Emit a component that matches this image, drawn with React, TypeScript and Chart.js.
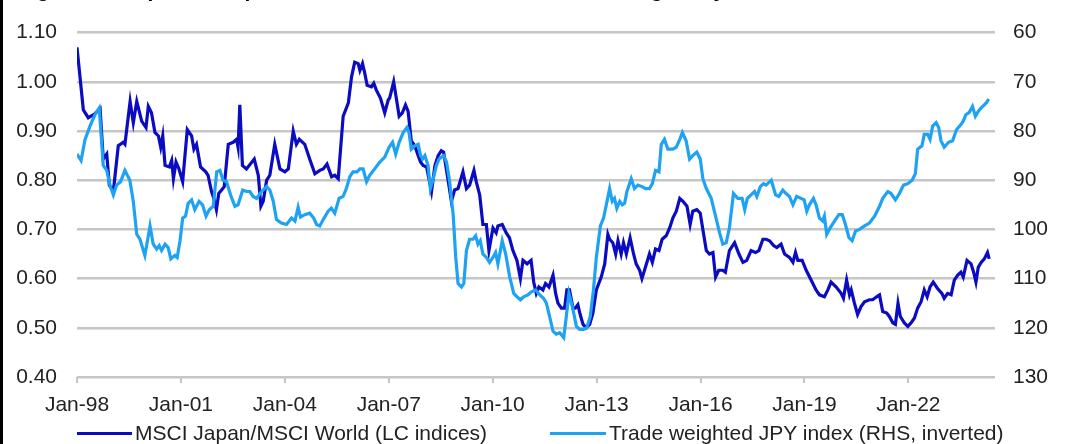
import { useEffect, useRef } from "react";
import { Chart, registerables } from "chart.js";

Chart.register(...registerables);

// x values are months since Jan-1998
const ratioMonths = [
  0, 2.2, 3.9, 6.2, 8.0, 9.1, 10.3, 11.2, 12.6, 14.3, 16.0, 16.6, 18.4, 19.5, 20.7, 22.4, 23.9, 24.7, 25.8,
  27.0, 28.2, 29.0, 29.7, 30.5, 32.0, 32.8, 33.4, 34.3, 35.3, 36.6, 38.2, 39.7, 40.5, 41.4, 42.8, 44.6, 45.4,
  46.6, 47.4, 48.3, 49.1, 50.1, 51.0, 52.4, 54.1, 55.3, 55.8, 56.4, 57.3, 58.7, 61.4,
  62.8, 63.7, 64.5, 65.7, 66.8, 68.5, 70.3, 72.0, 73.2, 74.9, 76.0, 77.0, 78.9, 80.6, 82.4, 84.1, 85.3, 86.6,
  88.2, 89.3, 90.5, 92.2, 94.0, 95.1, 96.2, 97.4, 98.0, 98.9, 99.7, 100.5, 102.0, 102.8, 103.7, 105.1, 106.6,
  107.8, 108.3, 109.7, 110.6, 111.6, 112.7, 113.8, 114.7, 115.8, 117.0, 118.2, 119.0, 119.9, 121.1, 122.8,
  124.0, 125.1, 126.2, 127.0, 128.0, 129.7, 130.8, 132.0, 133.7, 134.9, 136.0, 137.5, 138.3, 139.5, 140.6,
  141.8, 142.7, 144.1, 145.2, 145.8, 147.3, 148.7, 149.8, 151.0, 152.4, 153.6, 154.5, 155.9, 157.3, 158.2,
  159.1, 160.0, 161.4, 162.3, 163.5, 164.9, 165.8, 166.6, 167.8, 168.9, 169.7, 170.6, 171.8, 172.6, 173.5,
  174.3, 175.3, 176.4, 177.6, 178.7, 179.9, 181.6, 182.8, 183.9,
  184.5, 185.6, 186.6, 187.4, 188.5, 189.3, 190.3, 191.6, 192.8, 193.7, 194.9, 195.7, 196.9, 198.3, 199.3,
  200.4, 201.6, 202.7, 204.1, 205.3, 206.4, 207.6, 208.8, 209.9, 211.3, 212.4, 213.3, 214.7, 215.9, 216.8,
  218.0, 219.1, 220.3, 221.2, 222.3, 223.7, 224.6, 226.0, 227.8, 229.3, 230.7, 232.0, 233.5, 235.0, 236.2,
  237.6, 238.7, 239.9, 241.3, 242.4, 243.9, 245.1,
  246.8, 248.0, 248.9, 249.7, 251.2, 252.6, 254.3, 256.0, 257.2, 258.9, 260.1, 261.2, 263.0, 264.7, 265.5,
  266.6, 267.6, 268.2, 269.3, 270.4, 271.6, 272.8, 274.5, 275.6, 277.0, 278.0, 279.1, 280.5, 281.4, 282.6,
  283.5, 284.4, 285.2, 286.6, 287.8, 288.9, 290.1, 291.2, 292.4, 293.5, 294.5, 295.5, 296.6, 298.1, 299.6,
  300.4, 301.6, 302.8, 303.9, 305.1, 306.2, 307.0, 308.3, 309.7, 310.6, 311.4, 312.2, 313.2, 314.3, 315.4, 316.0,
];
const ratioValues = [
  1.07, 0.943, 0.927, 0.935, 0.945, 0.843, 0.853, 0.79, 0.778, 0.87, 0.877, 0.873, 0.96, 0.917, 0.96, 0.92, 0.907, 0.95, 0.937,
  0.897, 0.89, 0.867, 0.89, 0.83, 0.827, 0.84, 0.803, 0.837, 0.823, 0.797, 0.903, 0.89, 0.863, 0.873, 0.827, 0.817, 0.81,
  0.777, 0.763, 0.74, 0.773, 0.78, 0.787, 0.873, 0.877, 0.883, 0.867, 0.953, 0.83, 0.823, 0.843,
  0.81, 0.747, 0.757, 0.8, 0.81, 0.873, 0.823, 0.817, 0.823, 0.9, 0.873, 0.883, 0.873, 0.843, 0.813, 0.82, 0.823, 0.833,
  0.807, 0.81, 0.803, 0.93, 0.957, 1.01, 1.04, 1.037, 1.023, 1.037, 1.017, 0.993, 0.99, 0.997, 0.983, 0.967, 0.937,
  0.963, 0.967, 1.0, 0.967, 0.93, 0.937, 0.953, 0.94, 0.88, 0.87, 0.85, 0.837, 0.83, 0.827, 0.777,
  0.83, 0.85, 0.86, 0.857, 0.82, 0.757, 0.78, 0.783, 0.817, 0.783, 0.79, 0.82, 0.797, 0.77, 0.71,
  0.71, 0.657, 0.703, 0.693, 0.707, 0.71, 0.693, 0.683, 0.657, 0.637, 0.6, 0.637, 0.63, 0.637, 0.593,
  0.57, 0.583, 0.577, 0.59, 0.583, 0.607, 0.57, 0.55, 0.54, 0.54, 0.577, 0.577, 0.54, 0.54, 0.547,
  0.527, 0.507, 0.5, 0.507, 0.53, 0.577, 0.603, 0.63, 0.69,
  0.68, 0.673, 0.65, 0.677, 0.65, 0.673, 0.65, 0.683, 0.65, 0.63, 0.617, 0.6, 0.623, 0.65, 0.633,
  0.66, 0.657, 0.68, 0.687, 0.703, 0.723, 0.737, 0.763, 0.757, 0.747, 0.71, 0.737, 0.74, 0.733, 0.7,
  0.657, 0.65, 0.653, 0.603, 0.617, 0.617, 0.613, 0.657, 0.673, 0.65, 0.633, 0.637, 0.657, 0.653, 0.657,
  0.68, 0.68, 0.677, 0.667, 0.663, 0.67, 0.65,
  0.643, 0.633, 0.653, 0.637, 0.637, 0.617, 0.597, 0.577, 0.567, 0.563, 0.577, 0.593, 0.583, 0.57, 0.56,
  0.597, 0.567, 0.577, 0.55, 0.527, 0.543, 0.553, 0.557, 0.557, 0.563, 0.567, 0.533, 0.53, 0.523, 0.51,
  0.507, 0.55, 0.523, 0.51, 0.503, 0.51, 0.52, 0.54, 0.553, 0.577, 0.563, 0.583, 0.593, 0.58, 0.57,
  0.56, 0.57, 0.567, 0.597, 0.607, 0.613, 0.603, 0.637, 0.63, 0.613, 0.593, 0.623, 0.633, 0.64, 0.653, 0.64,
];

const jpyMonths = [
  0, 1.4, 2.8, 4.5, 6.2, 7.7, 9.1, 10.3, 11.4, 12.6, 13.7, 15.1, 16.6, 18.3, 19.5, 20.7, 21.8, 23.5, 25.3,
  26.4, 27.6, 28.5, 29.3, 30.5, 31.6, 32.5, 33.9, 34.7, 35.7, 36.6, 37.6, 38.5, 39.7, 40.8, 42.3, 43.5, 44.7,
  45.8, 47.2, 48.4, 49.5, 50.6, 51.8, 53.2, 54.7, 55.8, 57.4, 58.7, 59.9,
  61.0, 62.2, 63.9, 65.7, 66.8, 68.0, 69.1, 70.8, 72.6, 74.3, 75.5, 76.6, 77.4, 78.9, 80.6, 82.0, 83.0, 84.1,
  85.3, 87.0, 88.1, 89.3, 90.8, 92.2, 93.3, 94.5, 95.6, 97.0, 98.0, 99.1, 100.3, 101.4, 103.1, 104.9, 106.6,
  108.1, 109.3, 110.4, 111.6, 113.0, 114.3, 115.0, 115.8, 117.0, 118.2, 119.0, 119.7, 120.5, 121.6, 122.4,
  123.4, 124.5, 125.4,
  127.0, 128.0, 129.1, 130.3, 131.2, 132.0, 133.2, 134.0, 134.9, 136.0, 137.2, 138.1, 138.9, 139.7, 140.6,
  141.8, 142.9, 144.1, 145.0, 145.8, 147.3, 148.5, 149.9, 151.3, 152.4, 153.6, 154.7, 156.2, 157.4, 158.9,
  160.3, 161.6, 162.6, 163.7, 164.9, 166.0, 167.2, 168.6, 169.5, 170.4, 171.6, 173.0, 174.1, 175.5, 176.6,
  177.8, 178.9, 179.9, 181.3, 182.4, 183.6,
  184.5, 185.4, 186.2, 187.0, 188.0, 188.9, 189.7, 190.5, 192.0, 193.1, 194.3, 195.7, 196.9, 198.3, 199.3,
  200.4, 201.6, 202.4, 203.5, 204.7, 206.4, 207.6, 208.8, 209.7, 211.0, 212.2, 213.3, 214.7, 215.9, 216.8,
  218.0, 219.7, 221.2, 222.6, 223.7, 224.9, 226.0, 227.4, 228.9, 230.4, 231.3, 232.2, 233.5, 234.7, 235.5,
  236.7, 237.8, 238.7, 240.5, 242.0, 243.1, 244.5, 245.6,
  246.8, 248.0, 249.3, 250.8, 251.9, 252.8, 253.7, 255.1, 256.0, 257.2, 258.3, 258.9, 259.7, 260.9, 262.4,
  263.9, 265.1, 266.2, 267.4, 268.5, 269.7, 271.1, 272.8, 274.5, 276.3, 278.0, 279.1, 280.9, 282.0, 283.5,
  284.9, 286.3, 287.8, 289.3, 290.4, 291.2, 292.7, 293.5, 294.7, 295.5, 296.4, 297.6, 298.5, 299.3, 300.4,
  301.9, 303.3, 304.7, 306.2, 307.0, 307.9, 309.1, 310.2, 311.2, 312.2, 313.2, 314.3, 315.1, 315.8,
];
const jpyValues = [
  84.7, 86.0, 81.7, 79.0, 76.7, 75.3, 87.0, 88.0, 91.0, 93.0, 91.0, 90.3, 88.0, 90.0, 94.3, 101.0, 102.0, 105.3, 99.3,
  103.0, 104.0, 103.3, 104.3, 103.0, 103.7, 106.0, 105.3, 105.7, 102.3, 97.7, 97.3, 94.7, 94.0, 96.0, 94.3, 95.0, 97.3,
  96.0, 95.3, 88.3, 88.0, 90.0, 90.3, 93.0, 95.3, 95.0, 92.0, 92.3, 92.3,
  93.3, 93.7, 92.3, 91.3, 92.0, 94.3, 98.0, 98.7, 99.0, 97.7, 98.3, 95.5, 97.5, 97.0, 96.7, 97.7, 99.0, 99.3,
  98.0, 96.3, 95.7, 96.7, 93.7, 93.3, 91.7, 89.3, 88.3, 88.3, 87.7, 87.7, 90.3, 89.0, 87.7, 86.3, 85.3,
  83.3, 82.3, 84.7, 82.3, 80.3, 79.3, 80.3, 83.7, 83.0, 82.7, 85.0, 85.7, 85.0, 87.0, 91.7,
  89.7, 87.0, 85.7,
  85.0, 86.3, 90.3, 97.0, 105.7, 111.0, 111.7, 111.0, 104.3, 102.0, 102.0, 101.3, 103.0, 102.3, 105.0,
  105.7, 106.7, 105.7, 104.7, 107.0, 102.3, 105.0, 109.7, 113.0, 113.7, 114.3, 113.7, 113.3, 112.7, 112.3,
  113.3, 114.0, 115.0, 117.7, 120.7, 121.3, 121.0, 122.0, 117.7, 113.0, 115.7, 119.7, 120.3, 120.3, 120.0,
  117.7, 112.3, 105.7, 99.3, 97.7, 94.3,
  91.7, 94.3, 93.7, 95.7, 94.3, 95.0, 94.7, 92.3, 89.7, 91.7, 91.0, 91.3, 91.7, 91.7, 90.7,
  88.0, 88.3, 82.7, 81.7, 83.7, 83.7, 83.3, 81.7, 80.3, 82.0, 85.7, 85.0, 84.3, 85.7, 89.7,
  91.7, 93.7, 97.3, 100.7, 103.0, 102.7, 99.7, 92.7, 93.7, 93.7, 96.0, 93.7, 93.0, 92.3, 93.3,
  91.3, 90.7, 91.0, 90.0, 93.0, 93.3, 92.0, 92.7,
  93.3, 95.0, 93.3, 93.7, 94.0, 96.3, 95.0, 93.7, 95.0, 97.7, 98.3, 97.3, 101.0, 99.7, 98.3,
  97.0, 97.0, 99.0, 101.7, 102.3, 100.3, 100.0, 99.3, 98.7, 97.3, 95.3, 93.7, 92.3, 92.7, 94.0,
  92.7, 91.0, 90.7, 90.0, 88.7, 83.7, 83.0, 80.7, 80.7, 81.7, 79.0, 78.3, 79.3, 82.0, 83.3,
  82.3, 82.0, 79.7, 78.7, 78.0, 76.7, 76.2, 75.0, 77.0, 76.0, 75.3, 74.7, 74.2, 73.5,
];

const xTickMonths = [0, 36, 72, 108, 144, 180, 216, 252, 288];
const xTickLabels = ["Jan-98", "Jan-01", "Jan-04", "Jan-07", "Jan-10", "Jan-13", "Jan-16", "Jan-19", "Jan-22"];
const leftTicks = [0.4, 0.5, 0.6, 0.7, 0.8, 0.9, 1.0, 1.1];
const rightTicks = [60, 70, 80, 90, 100, 110, 120, 130];

const ratioLabel = "MSCI Japan/MSCI World (LC indices)";
const jpyLabel = "Trade weighted JPY index (RHS, inverted)";

const DARK = "#0b0bc2";
const LIGHT = "#1ea2f3";
const FONT = "'Liberation Sans', Arial, sans-serif";
const TEXT = "#222";
const GRID = "#c6c6c6";

function TwinAxisChart() {
  const canvasRef = useRef<HTMLCanvasElement>(null);

  useEffect(() => {
    if (!canvasRef.current) return;
    const tickFont = { family: FONT, size: 21 };

    const chart = new Chart(canvasRef.current, {
      type: "line",
      data: {
        datasets: [
          {
            label: jpyLabel,
            data: jpyMonths.map((m, i) => ({ x: m, y: jpyValues[i] })),
            borderColor: LIGHT,
            backgroundColor: LIGHT,
            borderWidth: 3.2,
            pointRadius: 0,
            yAxisID: "y1",
            order: 0,
          },
          {
            label: ratioLabel,
            data: ratioMonths.map((m, i) => ({ x: m, y: ratioValues[i] })),
            borderColor: DARK,
            backgroundColor: DARK,
            borderWidth: 3.2,
            pointRadius: 0,
            yAxisID: "y",
            order: 1,
          },
        ],
      },
      options: {
        animation: false,
        responsive: false,
        events: [],
        layout: { padding: { top: 30, bottom: 27, left: 0, right: 0 } },
        plugins: { legend: { display: false }, tooltip: { enabled: false } },
        scales: {
          x: {
            type: "linear",
            min: 0,
            max: 318,
            afterBuildTicks: (scale: any) => {
              scale.ticks = xTickMonths.map((v) => ({ value: v }));
            },
            afterFit: (scale: any) => {
              scale.height = 40;
            },
            ticks: {
              autoSkip: false,
              maxRotation: 0,
              padding: 10,
              color: TEXT,
              font: tickFont,
              callback: (v: any) => xTickLabels[xTickMonths.indexOf(Number(v))] ?? "",
            },
            grid: { drawOnChartArea: false, drawTicks: true, tickLength: 6, color: GRID, lineWidth: 2 },
            border: { display: false },
          },
          y: {
            position: "left",
            min: 0.4,
            max: 1.1,
            afterBuildTicks: (scale: any) => {
              scale.ticks = leftTicks.map((v) => ({ value: v }));
            },
            afterFit: (scale: any) => {
              scale.width = 77;
            },
            ticks: {
              padding: 20,
              color: TEXT,
              font: tickFont,
              callback: (v: any) => Number(v).toFixed(2),
            },
            grid: { color: GRID, lineWidth: 2.5, drawTicks: false },
            border: { display: false },
          },
          y1: {
            position: "right",
            min: 60,
            max: 130,
            reverse: true,
            afterBuildTicks: (scale: any) => {
              scale.ticks = rightTicks.map((v) => ({ value: v }));
            },
            afterFit: (scale: any) => {
              scale.width = 73;
            },
            ticks: {
              padding: 18,
              color: TEXT,
              font: tickFont,
              callback: (v: any) => String(v),
            },
            grid: { drawOnChartArea: false, drawTicks: false },
            border: { display: false },
          },
        },
      },
    });

    return () => {
      chart.destroy();
    };
  }, []);

  return <canvas ref={canvasRef} width={1068} height={444} style={{ position: "absolute", left: 0, top: 0 }} />;
}

function LegendItem({ left, textLeft, color, text }: { left: number; textLeft: number; color: string; text: string }) {
  return (
    <>
      <div style={{ position: "absolute", left, top: 431.5, width: textLeft - left - 3, height: 3, background: color }} />
      <div
        style={{
          position: "absolute",
          left: textLeft,
          top: 421,
          lineHeight: "24px",
          fontSize: 21,
          fontFamily: FONT,
          color: TEXT,
          whiteSpace: "nowrap",
        }}
      >
        {text}
      </div>
    </>
  );
}

export default function App() {
  return (
    <div
      style={{
        position: "fixed",
        left: 0,
        top: 0,
        width: 1068,
        height: 444,
        overflow: "hidden",
        background: "#fff",
      }}
    >
      <TwinAxisChart />
      <div
        style={{
          position: "absolute",
          left: 18,
          top: -21,
          fontSize: 21,
          lineHeight: "21px",
          fontWeight: "bold",
          fontFamily: FONT,
          color: "#000",
          whiteSpace: "nowrap",
        }}
      >
        Figure 14: Japanese equities relative to world and the trade-weighted yen
      </div>
      <div style={{ position: "absolute", left: 0, top: 0, width: 3, height: 444, background: "#000" }} />
      <LegendItem left={77} textLeft={135} color={DARK} text={ratioLabel} />
      <LegendItem left={550} textLeft={609} color={LIGHT} text={jpyLabel} />
    </div>
  );
}
